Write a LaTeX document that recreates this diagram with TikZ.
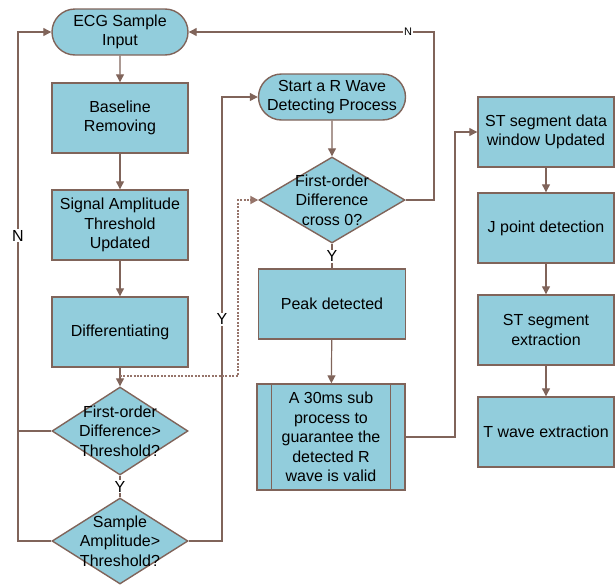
\documentclass[tikz,border=0pt]{standalone}
\usepackage{fontspec}
\setmainfont{Liberation Sans}
\usetikzlibrary{shapes.geometric,shapes.misc,arrows.meta}
\definecolor{boxfill}{RGB}{146,205,220}
\definecolor{edgebrown}{RGB}{128,100,90}
\definecolor{dotbrown}{RGB}{150,116,106}

\begin{document}
\begin{tikzpicture}[x=1pt,y=-1pt,
		every node/.style={font=\fontsize{16}{19.5}\selectfont, align=center},
		proc/.style={draw=edgebrown, line width=1.4pt, fill=boxfill, minimum width=136pt, minimum height=70pt, inner sep=0pt},
		term/.style={rounded rectangle, draw=edgebrown, line width=1.4pt, fill=boxfill, minimum width=136pt, minimum height=46pt, inner sep=0pt},
		dec/.style={diamond, draw=edgebrown, line width=1.4pt, fill=boxfill, minimum width=136pt, minimum height=88pt, inner sep=0pt},
		flow/.style={draw=edgebrown, line width=1.2pt},
		arr/.style={flow, -{Triangle[length=8pt,width=8pt]}},
		tag/.style={fill=white, inner sep=1pt}
	]
		\useasboundingbox (0,0) rectangle (616,584);
		% left column
		\node[term] (ecg) at (120,32) {ECG Sample\\Input};
		\node[proc] (base) at (120,118) {Baseline\\Removing};
		\node[proc] (sig) at (120,225) {Signal Amplitude\\Threshold\\Updated};
		\node[proc] (diff) at (120,332) {Differentiating};
		\node[dec, label={center:{First-order\\Difference>\\Threshold?}}] (d1) at (120,431) {};
		\node[dec, minimum height=86pt, label={center:{Sample\\Amplitude>\\Threshold?}}] (d2) at (120,541) {};
		% middle column, the R wave
		\node[term, minimum width=147pt] (rstart) at (332,97) {Start a R Wave\\Detecting Process};
		\node[dec, minimum width=146pt, minimum height=86pt, label={center:{First-order\\Difference\\cross 0?}}] (dr) at (332,200) {};
		\node[proc, minimum width=147pt] (peak) at (332,304) {Peak detected};
		\node[proc, minimum width=148pt, minimum height=106pt] (sub) at (331,437) {A 30ms sub\\process to\\guarantee the\\detected R\\wave is valid};
		\draw[edgebrown, line width=1.4pt] ([xshift=15pt]sub.north west) -- ([xshift=15pt]sub.south west);
		\draw[edgebrown, line width=1.4pt] ([xshift=-15pt]sub.north east) -- ([xshift=-15pt]sub.south east);
		% right column, the ST segment
		\node[proc] (st) at (546,132) {ST segment data\\window Updated};
		\node[proc] (jp) at (546,228) {J point detection};
		\node[proc] (ste) at (546,330) {ST segment\\extraction};
		\node[proc] (tw) at (546,432) {T wave extraction};
		% arrows down the left column
		\draw[arr] (ecg) -- (base);
		\draw[arr] (base) -- (sig);
		\draw[arr] (sig) -- (diff);
		\draw[arr] (diff) -- (d1);
		\draw[flow] (d1) -- node[tag] {Y} (d2);
		% N: back to the input
		\coordinate (nx) at (18,0);
		\draw[flow] (d1.west) -- (d1.west -| nx);
		\draw[arr] (d2.west) -- (d2.west -| nx) |- node[tag, pos=0.3] {N} (ecg.west);
		% Y: start the R wave process
		\coordinate (yx) at (222,0);
		\draw[arr] (d2.east) -- (d2.east -| yx) |- node[tag, pos=0.25] {Y} (rstart.west);
		% dotted feed of the difference
		\coordinate (tap) at ([yshift=-8pt]diff.south);
		\coordinate (dx) at (238,0);
		\draw[arr, draw=dotbrown, dash pattern=on 2pt off 1.4pt, line width=1.8pt] (tap) -- (tap -| dx) |- (dr.west);
		% middle column
		\draw[arr] (rstart) -- (dr);
		\draw[flow] (dr) -- node[tag] {Y} (peak);
		\draw[arr] (peak) -- (sub);
		\coordinate (rx) at (434,0);
		\draw[arr] (dr.east) -- (dr.east -| rx) |- node[tag, pos=0.553, font=\fontsize{11}{13}\selectfont] {N} (ecg.east);
		% on to the ST segment
		\coordinate (sx) at (455,0);
		\draw[arr] (sub.east) -- (sub.east -| sx) |- (st.west);
		\draw[arr] (st) -- (jp);
		\draw[arr] (jp) -- (ste);
		\draw[arr] (ste) -- (tw);
	\end{tikzpicture}
\end{document}
